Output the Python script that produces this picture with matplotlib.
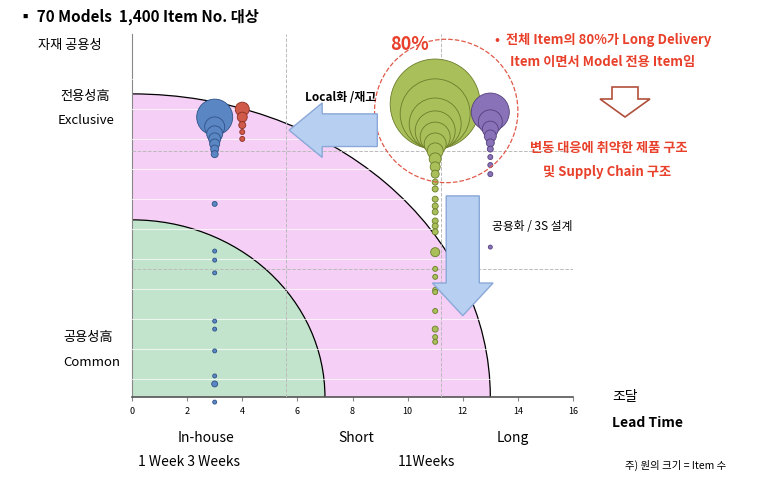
import matplotlib
matplotlib.use("Agg")
import matplotlib.pyplot as plt
from matplotlib.patches import Ellipse, FancyArrow, Polygon

plt.rcParams['font.family'] = ['Noto Sans CJK KR', 'DejaVu Sans']

# ---- data ----
blue_x = 3
blue_y = [77.1, 74.4, 72.5, 71.1, 69.7, 68.3, 66.9, 53.2, 40.2, 37.7, 34.2, 20.9, 18.7, 12.7, 5.8, 3.6, -1.4]
blue_r = [18, 10, 8, 6, 5, 4, 3.5, 2.5, 2, 2, 2, 2, 2, 2, 2, 3, 2]
red_x = 4
red_y = [79.3, 77.1, 74.9, 73.0, 71.1]
red_r = [7, 5, 3.5, 2.5, 2.5]
green_x = 11
green_y = [80.7, 78.0, 75.2, 73.3, 71.6, 69.7, 67.8, 65.6, 63.4, 61.4, 59.2, 57.3, 54.5, 52.6, 51.0,
           48.5, 47.1, 45.5, 39.9, 35.3, 33.1, 29.5, 28.9, 23.7, 18.7, 16.5, 15.2]
green_r = [45, 35, 26, 20, 15, 11, 8, 6, 5, 4, 3, 3, 3, 3, 3, 3, 3, 3, 4.5, 2.5, 2.5, 2.5, 2.5, 2.5, 3, 2.5, 2.5]
purple_x = 13
purple_y = [78.5, 75.8, 73.8, 71.9, 70.0, 68.3, 66.1, 63.9, 61.4, 41.3]
purple_r = [19, 12, 8, 6, 4, 3, 2.5, 2.5, 2.5, 2]
xticks = list(range(0, 17, 2))

fig = plt.figure(figsize=(7.73, 4.85), dpi=100)
ax = fig.add_axes([132/773, 1-398/485, 441/773, 363/485])
ax.set_xlim(0, 16)
ax.set_ylim(0, 100)

ax.add_patch(Ellipse((0, 0), 26, 2*83.5, facecolor='#f5cff5', edgecolor='black', lw=0.9, zorder=1))
ax.add_patch(Ellipse((0, 0), 14, 2*48.8, facecolor='#c2e4cc', edgecolor='black', lw=0.9, zorder=2))
for k in range(12):
    yy = (398 - (80 + 30*k)) / 3.63
    ax.axhline(yy, color='white', lw=0.8, alpha=0.7, zorder=3)
for gx in [5.6, 11.2]:
    ax.axvline(gx, color='#bbbbbb', lw=0.7, ls='--', zorder=3)
for gy in [67.8, 35.3]:
    ax.axhline(gy, color='#bbbbbb', lw=0.7, ls='--', zorder=3)

def bubbles(x, ys, rs, fc, ec):
    s = [(2*r*0.72)**2 for r in rs]
    ax.scatter([x]*len(ys), ys, s=s, c=fc, edgecolors=ec, linewidths=0.6, zorder=5, clip_on=False)

bubbles(blue_x, blue_y, blue_r, '#5b86c4', '#2e5286')
bubbles(red_x, red_y, red_r, '#cf5a4a', '#8c2e22')
bubbles(green_x, green_y, green_r, '#a9bf5a', '#6b7d2a')
bubbles(purple_x, purple_y, purple_r, '#8a72b8', '#54407c')

ax.add_patch(Ellipse((11.4, 78.8), 5.2, 39.5, fill=False, edgecolor='#e05a4a', ls='--', lw=0.9, zorder=6))

ax.add_patch(FancyArrow(8.9, 73.5, -3.2, 0, width=9, head_width=15, head_length=1.2,
                        length_includes_head=True, facecolor='#b7cff0', edgecolor='#8aa8d8', zorder=7))
ax.add_patch(FancyArrow(12.0, 55.4, 0, -33, width=1.2, head_width=2.2, head_length=9,
                        length_includes_head=True, facecolor='#b7cff0', edgecolor='#8aa8d8', zorder=7))

ax.set_xticks(xticks)
ax.tick_params(axis='x', labelsize=6.5, length=3, color='#888888')
ax.set_yticks([])
for s in ['top', 'right']:
    ax.spines[s].set_visible(False)
ax.spines['left'].set_color('#888888')
ax.spines['bottom'].set_color('#555555')
ax.spines['bottom'].set_linewidth(1.2)

def ft(x, y, s, **kw):
    fig.text(x/773, 1-y/485, s, va='center', **kw)

ft(18, 17, '▪ 70 Models  1,400 Item No. 대상', fontsize=11, fontweight='bold')
ft(38, 45, '자재 공용성', fontsize=9.5)
ft(60, 97, '전용성高', fontsize=9.5)
ft(58, 121, 'Exclusive', fontsize=9.5)
ft(63, 338, '공용성高', fontsize=9.5)
ft(63, 363, 'Common', fontsize=9.5)
ft(612, 397, '조달', fontsize=10)
ft(612, 423, 'Lead Time', fontsize=10, fontweight='bold')
ft(178, 438, 'In-house', fontsize=10)
ft(338, 438, 'Short', fontsize=10)
ft(497, 438, 'Long', fontsize=10)
ft(138, 462, '1 Week 3 Weeks', fontsize=10)
ft(398, 462, '11Weeks', fontsize=10)
ft(625, 465, '주) 원의 크기 = Item 수', fontsize=7.5)
ft(390, 44, '80%', fontsize=13, fontweight='bold', color='#e8402a')
red = '#e8402a'
ft(495, 40, '•  전체 Item의 80%가 Long Delivery', fontsize=9.5, fontweight='bold', color=red)
ft(510, 62, 'Item 이면서 Model 전용 Item임', fontsize=9.5, fontweight='bold', color=red)
ft(530, 148, '변동 대응에 취약한 제품 구조', fontsize=9.5, fontweight='bold', color=red)
ft(543, 172, '및 Supply Chain 구조', fontsize=9.5, fontweight='bold', color=red)
ft(305, 98, 'Local화 /재고', fontsize=8.5, fontweight='bold')
ft(492, 226, '공용화 / 3S 설계', fontsize=8.5)

pts = [(612, 88), (638, 88), (638, 100), (650, 100), (625, 118), (600, 100), (612, 100)]
fig.patches.append(Polygon([(x/773, 1-y/485) for x, y in pts], closed=True, fill=False,
                           edgecolor='#b0503a', lw=1.2, transform=fig.transFigure))

fig.savefig('out.png', dpi=100)
